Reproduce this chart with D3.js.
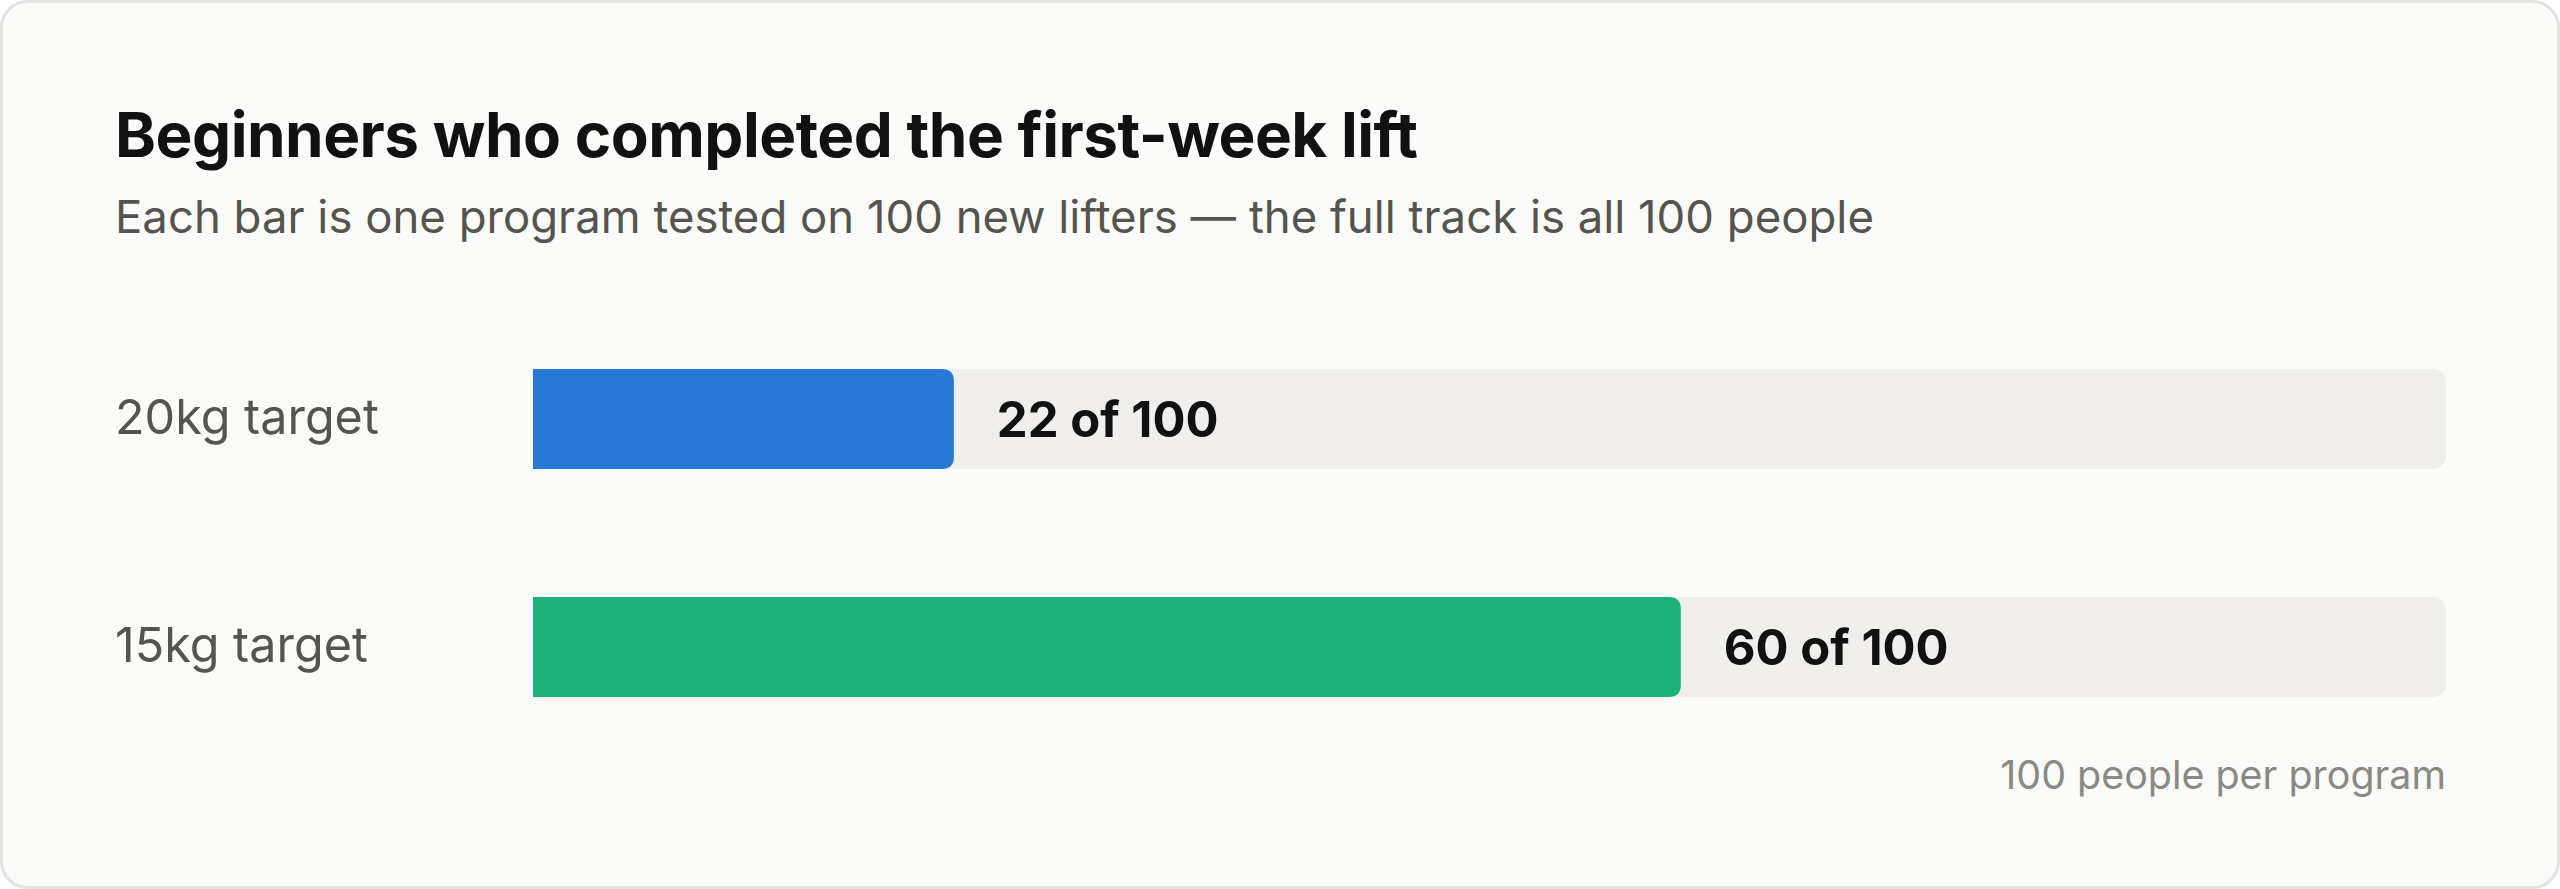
<!DOCTYPE html>
<html>
<head>
<meta charset="utf-8">
<script src="https://cdn.jsdelivr.net/npm/d3@7"></script>
<style>
  html, body { margin: 0; padding: 0; background: #ffffff; }
  svg { display: block; font-family: Inter, "Noto Sans", sans-serif; }
</style>
</head>
<body>
<div class="chart-wrapper"></div>
<script>
// data
const programs = ['20kg target', '15kg target']
const completed = [22, 60]
const cohortSize = [100, 100]
const barColors = ['#2a78d6', '#1cb07b']

const titleText = 'Beginners who completed the first-week lift'
const subtitleText = 'Each bar is one program tested on 100 new lifters \u2014 the full track is all 100 people'
const footText = '100 people per program'

const width = 2560
const height = 889
const barHeight = 100

let svg = d3.select('.chart-wrapper').append('svg')
.attr('width', width)
.attr('height', height)

// card
svg.append('rect')
.attr('x', 1.5)
.attr('y', 1.5)
.attr('width', width - 3)
.attr('height', height - 3)
.attr('rx', 26)
.attr('fill', '#fbfbf9')
.attr('stroke', '#e3e3e1')
.attr('stroke-width', 3)

svg.append('text')
.attr('x', 115)
.attr('y', 157)
.attr('fill', '#111111')
.attr('font-size', 62)
.attr('font-weight', 700)
.attr('letter-spacing', -0.5)
.text(titleText)

svg.append('text')
.attr('x', 115)
.attr('y', 233)
.attr('fill', '#55544f')
.attr('font-size', 45.5)
.text(subtitleText)

let x = d3.scaleLinear()
.domain([0, 100])
.range([533, 2446])

let y = d3.scalePoint()
.domain(programs)
.range([369, 597])

let rows = svg.append('g').selectAll('g')
.data(programs)
.enter()
.append('g')
.attr('transform', d => 'translate(0,' + y(d) + ')')

// full track = all people in the program
rows.append('rect')
.attr('x', x(0))
.attr('width', (d, i) => x(cohortSize[i]) - x(0))
.attr('height', barHeight)
.attr('rx', 13)
.attr('fill', '#f0efec')

// filled part, rounded on the right only
function barPath(w, h, r) {
  return 'M0,0H' + (w - r) + 'Q' + w + ',0 ' + w + ',' + r +
    'V' + (h - r) + 'Q' + w + ',' + h + ' ' + (w - r) + ',' + h + 'H0Z'
}

rows.append('path')
.attr('transform', 'translate(' + x(0) + ',0)')
.attr('d', (d, i) => barPath(x(completed[i]) - x(0), barHeight, 12))
.attr('fill', (d, i) => barColors[i])

rows.append('text')
.attr('x', (d, i) => x(completed[i]) + 43)
.attr('y', barHeight / 2)
.attr('dy', '0.36em')
.attr('fill', '#111111')
.attr('font-size', 49)
.attr('font-weight', 700)
.text((d, i) => completed[i] + ' of ' + cohortSize[i])

rows.append('text')
.attr('x', 115)
.attr('y', barHeight / 2)
.attr('dy', '0.3em')
.attr('fill', '#55544f')
.attr('font-size', 48.5)
.text(d => d)

svg.append('text')
.attr('x', x(100))
.attr('y', 789)
.attr('text-anchor', 'end')
.attr('fill', '#8a8984')
.attr('font-size', 39.4)
.text(footText)
</script>
</body>
</html>
